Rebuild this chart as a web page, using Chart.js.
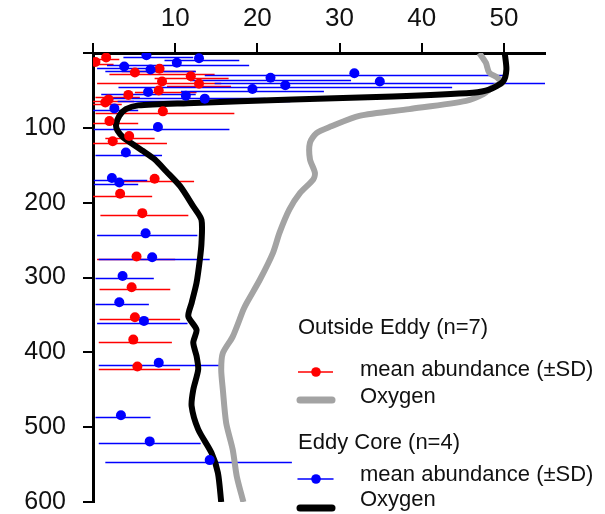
<!DOCTYPE html>
<html>
<head>
<meta charset="utf-8">
<script src="https://cdn.jsdelivr.net/npm/chart.js@4/dist/chart.umd.min.js"></script>
<style>
  html, body { margin: 0; padding: 0; background: #fff; }
  canvas { display: block; }
</style>
</head>
<body>
<canvas id="chart" width="605" height="514"></canvas>
<script>
// --- DATA ---
// Outside eddy: depth (m), mean abundance, -SD / +SD ends
const outDepth = [6, 12, 21, 26, 31, 38, 41, 50, 56, 62, 66, 78, 91, 111, 118, 168, 188, 214, 272, 313, 353, 383, 419];
const outMean  = [1.6, 0.3, 8.1, 5.1, 11.9, 8.4, 12.9, 8.0, 4.3, 1.9, 1.5, 8.5, 2.0, 4.4, 2.4, 7.5, 3.3, 6.0, 5.3, 4.7, 5.1, 4.9, 5.4];
const outLo    = [0, 0, 3.5, 2.0, 7.5, 0.5, 9.0, 5.1, 0.3, 0, 0, 0.3, 0, 1.5, 0, 2.7, 0, 0.9, 0.5, 0.8, 0.8, 0.7, 0.7];
const outHi    = [3.2, 2.5, 12.5, 14.8, 16.5, 15.6, 16.8, 12.6, 5.7, 5.0, 3.5, 17.2, 5.5, 7.5, 9.0, 12.3, 7.2, 11.6, 10.0, 9.4, 10.6, 9.6, 10.6];

// Eddy core
const coreDepth = [3, 7, 13, 18, 22, 27, 33, 38, 43, 48, 52, 57, 61, 74, 99, 133, 167, 173, 241, 273, 298, 333, 358, 414, 484, 519, 544];
const coreMean  = [6.5, 12.9, 10.2, 3.8, 7.0, 31.8, 21.6, 34.9, 23.4, 19.4, 6.7, 11.3, 13.6, 2.6, 7.9, 4.0, 2.3, 3.2, 6.4, 7.2, 3.6, 3.2, 6.2, 8.0, 3.4, 6.9, 14.2];
const coreLo    = [3.7, 8.7, 1.7, 0.5, 1.5, 13.6, 11.8, 14.8, 3.1, 10.7, 1.0, 1.5, 3.0, 0, 0.1, 0.3, 0.1, 0.1, 0.5, 0.7, 0.3, 0.3, 0.5, 0.7, 0.3, 0.7, 1.5];
const coreHi    = [12.2, 17.8, 19.0, 8.0, 12.5, 50.4, 31.4, 55, 43.7, 28.1, 12.5, 21.0, 24.0, 5.5, 16.6, 8.4, 6.6, 5.5, 12.7, 14.2, 7.4, 6.8, 11.5, 15.8, 7.0, 13.1, 24.2];

// Oxygen profiles
const o2OutDepth = [0, 13, 26, 33, 40, 46, 55, 64, 75, 84, 98, 107, 120, 142, 160, 169, 187, 209, 240, 267, 303, 334, 343, 379, 401, 423, 450, 494, 530, 566, 600];
const o2Out      = [47.0, 47.8, 48.2, 49.2, 49.8, 48.6, 47.5, 45.4, 38.5, 32.4, 29.0, 27.2, 26.4, 26.4, 27.0, 26.8, 25.2, 23.9, 22.7, 21.9, 20.3, 18.7, 18.3, 17.0, 15.8, 15.6, 15.8, 16.2, 17.0, 17.5, 18.3];
const o2CoreDepth = [0, 22, 38, 49, 53, 58, 62, 67, 70, 75, 84, 96, 104, 113, 131, 142, 158, 178, 205, 223, 254, 276, 307, 334, 352, 370, 387, 405, 423, 450, 472, 503, 534, 561, 600];
const o2Core      = [50.1, 50.3, 49.9, 48.2, 46.2, 36.5, 24.3, 11.5, 5.5, 4.0, 3.2, 2.8, 3.0, 3.7, 6.1, 7.5, 8.9, 10.6, 12.2, 13.2, 13.2, 13.0, 12.6, 12.0, 11.6, 12.6, 12.2, 12.6, 12.8, 12.2, 12.0, 12.8, 14.4, 15.2, 15.6];

const xTicks = [0, 10, 20, 30, 40, 50];
const yTicks = [0, 100, 200, 300, 400, 500, 600];

const RED = '#ff0000', BLUE = '#0000ff', GREY = '#a3a3a3', BLACK = '#000000';
const FONT = 'Arial, "Liberation Sans", sans-serif';

const toXY = (xs, ys) => xs.map((v, i) => ({ x: v, y: ys[i] }));

// --- PLUGINS ---
const errorBars = {
  id: 'errorBars',
  beforeDatasetsDraw(chart) {
    const { ctx, chartArea: a, scales: { x, y } } = chart;
    ctx.save();
    ctx.beginPath();
    ctx.rect(a.left, a.top, a.right - a.left, a.bottom - a.top);
    ctx.clip();
    ctx.lineWidth = 1.5;
    [[outDepth, outLo, outHi, RED], [coreDepth, coreLo, coreHi, BLUE]].forEach(([d, lo, hi, col]) => {
      ctx.strokeStyle = col;
      d.forEach((dep, i) => {
        const py = Math.round(y.getPixelForValue(dep)) + 2.5;
        ctx.beginPath();
        ctx.moveTo(x.getPixelForValue(lo[i]), py);
        ctx.lineTo(x.getPixelForValue(hi[i]), py);
        ctx.stroke();
      });
    });
    ctx.restore();
  }
};

const textLegend = {
  id: 'textLegend',
  afterDraw(chart) {
    const ctx = chart.ctx;
    ctx.save();
    ctx.fillStyle = '#111';
    ctx.font = '22px ' + FONT;
    ctx.textBaseline = 'middle';
    ctx.textAlign = 'left';

    const marker = (y, col) => {
      ctx.strokeStyle = col; ctx.lineWidth = 1.5;
      ctx.beginPath(); ctx.moveTo(298, y); ctx.lineTo(333, y); ctx.stroke();
      ctx.fillStyle = col;
      ctx.beginPath(); ctx.arc(316, y, 4.8, 0, Math.PI * 2); ctx.fill();
      ctx.fillStyle = '#111';
    };
    const bar = (y, col) => {
      ctx.strokeStyle = col; ctx.lineWidth = 7; ctx.lineCap = 'round';
      ctx.beginPath(); ctx.moveTo(300, y); ctx.lineTo(332, y); ctx.stroke();
    };

    ctx.fillText('Outside Eddy (n=7)', 298, 328);
    marker(372, RED);
    ctx.fillText('mean abundance (±SD)', 360, 370);
    bar(400, GREY);
    ctx.fillText('Oxygen', 360, 397);

    ctx.fillText('Eddy Core (n=4)', 298, 443);
    marker(479, BLUE);
    ctx.fillText('mean abundance (±SD)', 360, 475);
    bar(508, BLACK);
    ctx.fillText('Oxygen', 360, 500);
    ctx.restore();
  }
};

// no label overflow padding: the plot box is set by the fixed axis sizes below
const noPad = s => { s.paddingTop = 0; s.paddingBottom = 0; s.paddingLeft = 0; s.paddingRight = 0; };

// --- CHART ---
new Chart(document.getElementById('chart'), {
  type: 'scatter',
  data: {
    datasets: [
      { label: 'O2 outside', data: toXY(o2Out, o2OutDepth), showLine: true, borderColor: GREY, borderWidth: 6,
        pointRadius: 0, tension: 0.25, borderJoinStyle: 'round', order: 4 },
      { label: 'O2 core', data: toXY(o2Core, o2CoreDepth), showLine: true, borderColor: BLACK, borderWidth: 6,
        pointRadius: 0, tension: 0.25, borderJoinStyle: 'round', order: 3 },
      { label: 'Outside Eddy', data: toXY(outMean, outDepth), backgroundColor: RED, borderWidth: 0,
        pointRadius: 5, order: 2 },
      { label: 'Eddy Core', data: toXY(coreMean, coreDepth), backgroundColor: BLUE, borderWidth: 0,
        pointRadius: 5, order: 1 }
    ]
  },
  options: {
    responsive: false,
    animation: false,
    layout: { padding: { left: 0, top: 0, right: 60, bottom: 12 } },
    plugins: { legend: { display: false }, tooltip: { enabled: false } },
    scales: {
      x: {
        type: 'linear', position: 'top', min: 0, max: 55,
        afterBuildTicks: s => { s.ticks = xTicks.map(v => ({ value: v })); },
        afterFit: s => { s.height = 53; noPad(s); },
        ticks: { callback: v => v === 0 ? '' : v, color: '#111', font: { family: FONT, size: 26 }, padding: 9, maxRotation: 0 },
        grid: { drawOnChartArea: false, drawTicks: true, tickLength: 10, color: '#000', lineWidth: 2 },
        border: { display: true, color: '#000', width: 3 }
      },
      y: {
        type: 'linear', position: 'left', min: 0, max: 600, reverse: true,
        afterBuildTicks: s => { s.ticks = yTicks.map(v => ({ value: v })); },
        afterFit: s => { s.width = 93; noPad(s); },
        ticks: { callback: v => v === 0 ? '' : v, color: '#111', font: { family: FONT, size: 25 }, padding: 17 },
        grid: { drawOnChartArea: false, drawTicks: true, tickLength: 10, color: '#000', lineWidth: 2 },
        border: { display: true, color: '#000', width: 3 }
      }
    }
  },
  plugins: [errorBars, textLegend]
});
</script>
</body>
</html>
